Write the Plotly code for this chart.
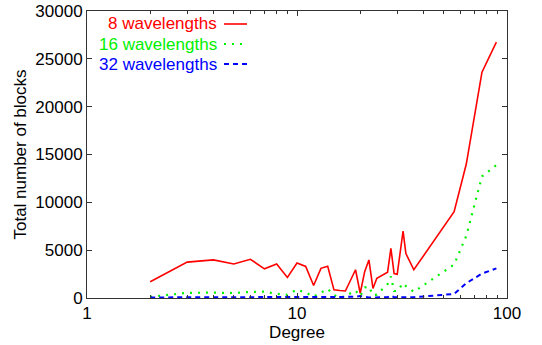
import plotly.graph_objects as go

degree = [2, 3, 4, 5, 6, 7, 8, 9, 10, 11, 12, 13, 14, 15, 16, 17, 19, 20, 21, 22,
          23, 24, 27, 28, 29, 30, 32, 33, 36, 56, 64, 76, 89]
blocks_8 = [1700, 3750, 3980, 3550, 4050, 3050, 3550, 2150, 3650, 3300, 1300, 3100,
            3320, 850, 780, 730, 2950, 500, 2750, 3980, 1000, 2060, 2700, 5200, 2550,
            2480, 7000, 4650, 2950, 9020, 14000, 23600, 26750]
blocks_16 = [120, 540, 560, 520, 640, 660, 440, 330, 880, 560, 150, 560, 950, 300, 50,
             200, 780, 200, 1100, 1200, 300, 350, 1450, 2250, 730, 730, 1550, 1250, 650,
             3500, 6500, 12700, 13900]
blocks_32 = [60, 60, 60, 60, 60, 60, 60, 60, 60, 60, 60, 60, 60, 60, 60, 60, 120, 200,
             100, 60, 60, 60, 80, 250, 80, 80, 80, 80, 80, 420, 1550, 2550, 3100]

series_names = ["8 wavelengths", "16 wavelengths", "32 wavelengths"]
series_colors = ["#ff0000", "#00f000", "#0000ff"]
series_dash = ["solid", "2px,6px", "5px,4px"]
series_width = [1.6, 2.2, 2]
series_data = [blocks_8, blocks_16, blocks_32]

y_ticks = [0, 5000, 10000, 15000, 20000, 25000, 30000]
y_labels = ["0", "5000", "10000", "15000", "20000", "25000", "30000"]
x_ticks = [1, 10, 100]
x_labels = ["1", "10", "100"]
x_minor = [2, 3, 4, 5, 6, 7, 8, 9, 20, 30, 40, 50, 60, 70, 80, 90]

FONT = "Liberation Sans, Arial, sans-serif"

fig = go.Figure()
for name, col, dash, w, vals in zip(series_names, series_colors, series_dash,
                                    series_width, series_data):
    fig.add_trace(go.Scatter(x=degree, y=vals, mode="lines", name=name,
                             line=dict(color=col, dash=dash, width=w),
                             showlegend=False))

# manual legend (text left of sample, as in reference)
W, H = 542, 345
L, R, T, B = 87, 35, 11, 47
pw, ph = W - L - R, H - T - B
def px_x(p):
    return (p - L) / pw
def px_y(p):
    return (H - B - p) / ph

rows = [24, 44, 64]
for name, col, dash, w, ry in zip(series_names, series_colors, series_dash,
                                  series_width, rows):
    fig.add_annotation(x=px_x(219), y=px_y(ry), xref="paper", yref="paper",
                       text=name, showarrow=False, xanchor="right", yanchor="middle",
                       font=dict(color=col, size=17, family=FONT))
    fig.add_shape(type="line", xref="paper", yref="paper",
                  x0=px_x(224), x1=px_x(247), y0=px_y(ry), y1=px_y(ry),
                  line=dict(color=col, dash=dash, width=w))

fig.update_layout(
    width=W, height=H,
    margin=dict(l=L, r=R, t=T, b=B),
    plot_bgcolor="white", paper_bgcolor="white",
    font=dict(family=FONT, size=17, color="black"),
    xaxis=dict(type="log", range=[0, 2], tickmode="array", tickvals=x_ticks,
               ticktext=x_labels, automargin=False,
               ticks="inside", ticklen=5, tickcolor="#333", showline=True,
               linecolor="#333", linewidth=1, mirror="ticks", showgrid=False,
               zeroline=False,
               minor=dict(tickvals=x_minor, ticks="inside", ticklen=3,
                          tickcolor="#333", showgrid=False),
               title=dict(text="Degree", standoff=2, font=dict(size=17))),
    yaxis=dict(range=[0, 30000], tickmode="array", tickvals=y_ticks, ticktext=y_labels,
               ticks="inside", ticklen=5, automargin=False,
               tickcolor="#333", showline=True, linecolor="#333", linewidth=1,
               mirror="ticks", showgrid=False, zeroline=False,
               title=dict(text="Total number of blocks", standoff=4, font=dict(size=17))),
)

fig.write_html("out.html")
